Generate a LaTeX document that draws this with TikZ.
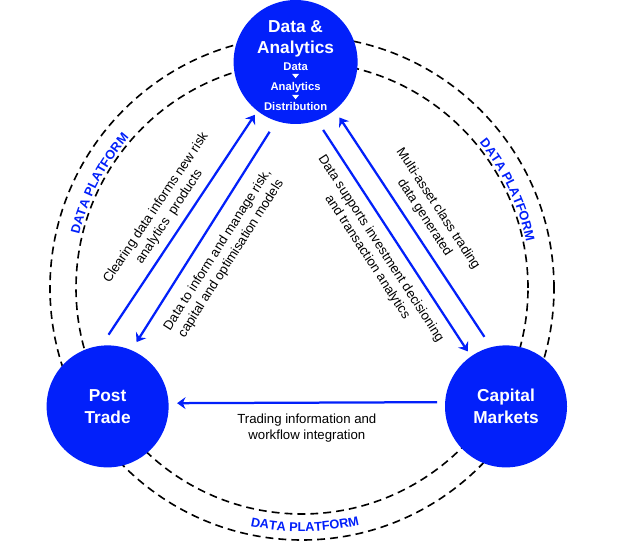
\documentclass[tikz,border=0pt]{standalone}
\usepackage{fontspec}
\setmainfont{Liberation Sans}
\usetikzlibrary{arrows.meta,decorations.text,positioning}

\definecolor{dpblue}{RGB}{2,32,250}
\newcommand{\dpfont}{\fontsize{9.1}{11}\selectfont\bfseries\color{dpblue}}

\begin{document}
\begin{tikzpicture}[
    hub/.style={circle, fill=dpblue, text=white, inner sep=0pt, outer sep=0pt, align=center,
        font=\fontsize{12.3}{15.4}\selectfont\bfseries},
    hubtitle/.style={text=white, inner sep=0pt, anchor=base, font=\fontsize{12.3}{15.4}\selectfont\bfseries},
    hubstep/.style={text=white, inner sep=0pt, anchor=base, font=\fontsize{8}{9.6}\selectfont\bfseries},
    flow/.style={dpblue, line width=1.6pt, -{Stealth[length=6pt,width=8.5pt,inset=2pt]}},
    lbl/.style={text=black, font=\fontsize{9.4}{11.4}\selectfont, align=center, inner sep=0pt},
    platformline/.style={dash pattern=on 5.6pt off 3.6pt, line width=1.15pt}
]
    \useasboundingbox (0,0) rectangle (16,13.75);

    % Data platform rings
    \coordinate (platform) at (7.55,6.55);
    \draw[platformline] (platform) circle[radius=6.3];
    \draw[platformline] (platform) circle[radius=5.65];
    \path[decorate, decoration={text along path, text align=center, text={|\dpfont|DATA PLATFORM}}]
        ([shift={(182.8:5.725)}]platform) arc[start angle=182.8, end angle=122.8, radius=5.725];
    \path[decorate, decoration={text along path, text align=center, text={|\dpfont|DATA PLATFORM}}]
        ([shift={(55.5:5.725)}]platform) arc[start angle=55.5, end angle=-4.5, radius=5.725];
    \path[decorate, decoration={text along path, text align=center, text={|\dpfont|DATA PLATFORM}}]
        ([shift={(240.7:6.09)}]platform) arc[start angle=240.7, end angle=300.7, radius=6.09];

    % Hubs
    \node[hub, minimum size=3.1cm] (analytics) at (7.39,12.2) {};
    \node[hub, minimum size=3.05cm] (posttrade) at (2.69,3.59) {Post\\Trade};
    \node[hub, minimum size=3.05cm] (capmkts) at (12.65,3.59) {Capital\\Markets};

    % Data & Analytics text
    \node[hubtitle] (datitle) at ([yshift=0.725cm]analytics.center) {Data \&};
    \node[hubtitle] (antitle) at ([yshift=0.2cm]analytics.center) {Analytics};
    \node[hubstep] (stepdata) at ([yshift=-0.22cm]analytics.center) {Data};
    \node[hubstep] (stepanalytics) at ([yshift=-0.72cm]analytics.center) {Analytics};
    \node[hubstep] (stepdist) at ([yshift=-1.225cm]analytics.center) {Distribution};
    \foreach \y in {-0.3,-0.825}
        \fill[white] ([shift={(-0.085,\y)}]analytics.center) -- ++(0.17,0) -- ++(-0.085,-0.105) -- cycle;

    % Flows
    \draw[flow, shorten <=0.33cm, shorten >=0.12cm] (posttrade.96.4) -- (analytics.232.3);
    \draw[flow, shorten <=0.32cm, shorten >=0.24cm] (analytics.252.5) -- (posttrade.67.5);
    \draw[flow, shorten <=0.29cm, shorten >=0.15cm] (analytics.290) -- (capmkts.125.8);
    \draw[flow, shorten <=0.31cm, shorten >=0.22cm] (capmkts.104.4) -- (analytics.309.8);
    \draw[flow, shorten <=0.2cm, shorten >=0.215cm] (capmkts.176.7) -- (posttrade.3.3)
        node[lbl, midway, below=0.26cm] (lbltrading) {Trading information and\\workflow integration};

    % Flow labels
    \node[lbl, rotate=56.3] (lblclearing) at (4.07,8.44) {Clearing data informs new risk\\analytics\ \ products};
    \node[lbl, rotate=57.5] (lblrisk) at (5.61,7.39) {Data to inform and manage risk,\\capital and optimisation models};
    \node[lbl, rotate=-57] (lblinvest) at (9.35,7.43) {Data supports investment decisioning\\and transaction analytics};
    \node[lbl, rotate=-56.8] (lblmulti) at (10.78,8.42) {Multi-asset class trading\\data generated};
\end{tikzpicture}
\end{document}
